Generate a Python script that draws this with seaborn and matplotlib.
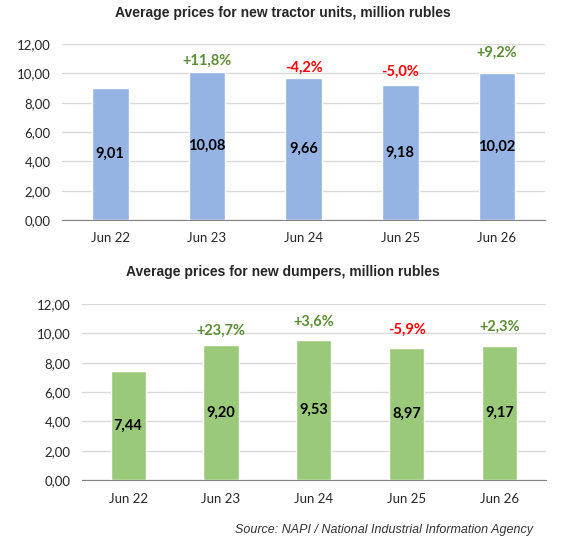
import numpy as np
import pandas as pd
import seaborn as sns
import matplotlib.pyplot as plt

months = ["Jun 22", "Jun 23", "Jun 24", "Jun 25", "Jun 26"]

tractor_prices = [9.01, 10.08, 9.66, 9.18, 10.02]
tractor_change = ["", "+11,8%", "-4,2%", "-5,0%", "+9,2%"]
tractor_change_y = [0, 10.89, 10.36, 10.11, 11.43]

dumper_prices = [7.44, 9.20, 9.53, 8.97, 9.17]
dumper_change = ["", "+23,7%", "+3,6%", "-5,9%", "+2,3%"]
dumper_change_y = [0, 10.16, 10.77, 10.23, 10.43]

sns.set_style("white")
plt.rcParams['font.family'] = ['Lato', 'DejaVu Sans']

GREEN_TXT = "#5B8C36"
RED_TXT = "#FF0000"
ARIAL = ["Liberation Sans", "DejaVu Sans"]


def draw(ax, prices, changes, change_y, color):
    df = pd.DataFrame({"month": months, "price": prices})
    sns.barplot(x="month", y="price", data=df, color=color, width=0.38,
                saturation=1, ax=ax, zorder=3)
    ax.set_ylim(0, 12)
    ax.set_xlim(-0.5, 4.5)
    ax.set_yticks(np.arange(0, 13, 2))
    ax.set_yticklabels([f"{v:.2f}".replace(".", ",") for v in np.arange(0, 13, 2)])
    ax.yaxis.grid(True, color="#D9D9D9", linewidth=1, zorder=0)
    ax.set_axisbelow(True)
    for s in ["top", "right", "left"]:
        ax.spines[s].set_visible(False)
    ax.spines["bottom"].set_color("#808080")
    ax.tick_params(axis="y", length=0, labelsize=9.5, pad=8)
    ax.tick_params(axis="x", which="major", length=0, labelsize=9.5, pad=9)
    # tick marks sit between the categories
    ax.set_xticks(np.arange(-0.5, 5), minor=True)
    ax.tick_params(axis="x", which="minor", length=4, color="#808080", width=1)
    ax.set_xlabel("")
    ax.set_ylabel("")

    for i, v in enumerate(prices):
        ax.text(i, v / 2, f"{v:.2f}".replace(".", ","), ha="center", va="center",
                fontsize=10.5, fontweight="bold", color="black", zorder=4)
    for i, c in enumerate(changes):
        if not c:
            continue
        col = RED_TXT if c.startswith("-") else GREEN_TXT
        ax.text(i, change_y[i], c, ha="center", va="center", fontsize=10.5,
                fontweight="bold", color=col, zorder=4)


fig = plt.figure(figsize=(5.68, 5.44), dpi=100)
ax1 = fig.add_axes([0.109, 0.5956, 0.851, 0.3234])
ax2 = fig.add_axes([0.144, 0.1176, 0.817, 0.3235])

draw(ax1, tractor_prices, tractor_change, tractor_change_y, "#95B3E3")
draw(ax2, dumper_prices, dumper_change, dumper_change_y, "#9BC97A")

fig.text(283 / 568, 1 - 13 / 544, "Average prices for new tractor units, million rubles",
         ha="center", va="center", fontsize=10, fontweight="bold", family=ARIAL)
fig.text(283 / 568, 1 - 272 / 544, "Average prices for new dumpers, million rubles",
         ha="center", va="center", fontsize=10, fontweight="bold", family=ARIAL)
fig.text(533 / 568, 1 - 530 / 544, "Source: NAPI / National Industrial Information Agency",
         ha="right", va="center", fontsize=9, style="italic", color="#333333",
         family=ARIAL)

fig.savefig("out.png", dpi=100, facecolor="white")
